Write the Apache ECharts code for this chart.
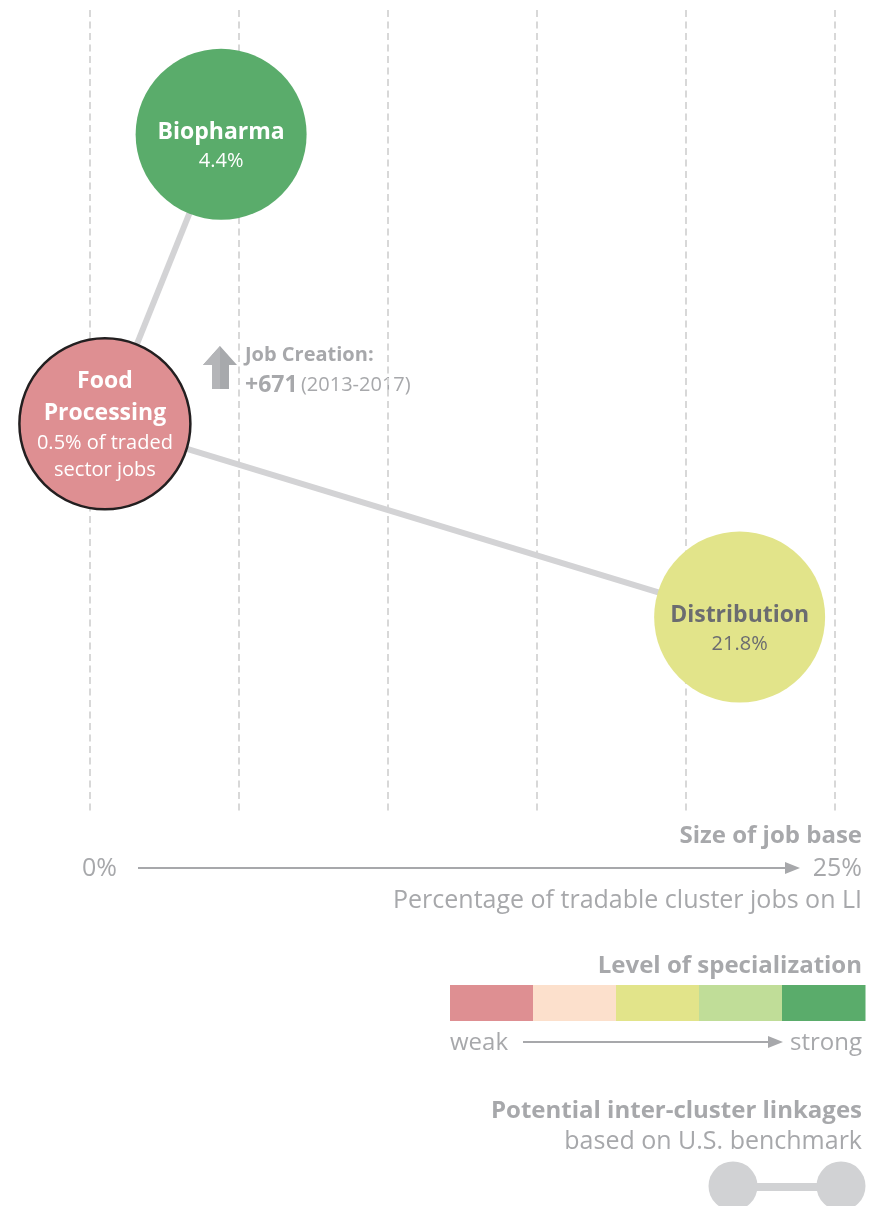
<!DOCTYPE html>
<html>
<head>
<meta charset="utf-8">
<script src="https://cdn.jsdelivr.net/npm/echarts@6/dist/echarts.min.js"></script>
<style>
  html, body { margin: 0; padding: 0; background: #fff; }
  #chart { width: 880px; height: 1206px; }
</style>
</head>
<body>
<div id="chart"></div>
<script>
// Cluster bubbles: share of tradable cluster jobs (%), vertical placement, specialization level (0 weak .. 4 strong)
const clusters = ['Biopharma', 'Food Processing', 'Distribution'];
const jobShare = [4.4, 0.5, 21.8];
const nodeY = [84.5, 48.4, 24.3];
const specializationLevel = [4, 0, 2];
const linkages = [['Biopharma', 'Food Processing'], ['Food Processing', 'Distribution']];

// Highlighted cluster annotation
const jobCreation = 671;
const jobPeriod = '2013-2017';

// Axis / legend texts
const axisTicks = [0, 5, 10, 15, 20, 25];
const axisEndLabels = ['0%', '25%'];
const specializationColors = ['#de8f92', '#fce0cc', '#e2e48a', '#c0dd98', '#5aac6b'];
const specializationEnds = ['weak', 'strong'];

const FONT = '"Open Sans"';
const GREY = '#a7a8ab';

const chart = echarts.init(document.getElementById('chart'), null, { renderer: 'canvas' });

function nodeLabel(name, i) {
  const dark = specializationLevel[i] === 2;
  const col = dark ? '#6b6c70' : '#ffffff';
  if (name === 'Food Processing') {
    return {
      formatter: '{b|Food}\n{b|Processing}\n{v|' + jobShare[i] + '% of traded}\n{v|sector jobs}',
      offset: [0, 1],
      rich: {
        b: { fontFamily: FONT, fontWeight: 'bold', fontSize: 23, color: col, lineHeight: 32 },
        v: { fontFamily: FONT, fontSize: 20, color: col, lineHeight: 27 }
      }
    };
  }
  return {
    formatter: '{b|' + name + '}\n{v|' + jobShare[i] + '%}',
    offset: [0, 12],
    rich: {
      b: { fontFamily: FONT, fontWeight: 'bold', fontSize: 23, color: col, lineHeight: 30 },
      v: { fontFamily: FONT, fontSize: 20, color: col, lineHeight: 28 }
    }
  };
}

const nodes = clusters.map((name, i) => ({
  name: name,
  value: [jobShare[i], nodeY[i]],
  itemStyle: Object.assign(
    { color: specializationColors[specializationLevel[i]] },
    name === 'Food Processing' ? { borderColor: '#231f20', borderWidth: 2.5 } : {}
  ),
  label: Object.assign({ show: true, position: 'inside', align: 'center' }, nodeLabel(name, i))
}));

const links = linkages.map(([s, t]) => ({ source: s, target: t }));

// Legend pieces drawn as graphic elements
const barX = 450, barW = 415, barY = 985, barH = 36;
const segW = barW / specializationColors.length;
const specBar = specializationColors.map((c, i) => ({
  type: 'rect',
  shape: { x: barX + i * segW, y: barY, width: segW + 0.5, height: barH },
  style: { fill: c }
}));

function txt(x, y, text, opts) {
  return {
    type: 'text', x: x, y: y,
    style: Object.assign({
      text: text, fill: GREY, font: '25px ' + FONT,
      textAlign: 'left', textVerticalAlign: 'middle'
    }, opts || {})
  };
}

function arrow(x1, x2, y) {
  return [
    { type: 'line', shape: { x1: x1, y1: y, x2: x2 - 12, y2: y }, style: { stroke: GREY, lineWidth: 2 } },
    { type: 'polygon', shape: { points: [[x2 - 15, y - 6], [x2, y], [x2 - 15, y + 6]] }, style: { fill: GREY } }
  ];
}

const graphics = [
  // Job creation annotation
  { type: 'polygon', shape: { points: [[220, 346], [237, 365], [229, 365], [229, 389], [212, 389], [212, 365], [203, 365]] }, style: { fill: '#a7a9ac' } },
  { type: 'polygon', shape: { points: [[220, 346], [220, 389], [212, 389], [212, 365], [203, 365]] }, style: { fill: '#b4b5b8' } },
  txt(245, 355, 'Job Creation:', { font: 'bold 20px ' + FONT }),
  {
    type: 'text', x: 245, y: 385,
    style: {
      text: '{a|+' + jobCreation + '} {b|(' + jobPeriod + ')}',
      textVerticalAlign: 'middle',
      rich: {
        a: { font: 'bold 23px ' + FONT, fill: GREY },
        b: { font: '20px ' + FONT, fill: GREY }
      }
    }
  },
  // Size of job base
  txt(862, 836, 'Size of job base', { font: 'bold 24px ' + FONT, textAlign: 'right' }),
  txt(82, 869, axisEndLabels[0]),
  txt(862, 869, axisEndLabels[1], { textAlign: 'right' }),
  ...arrow(138, 800, 868),
  txt(862, 901, 'Percentage of tradable cluster jobs on LI', { textAlign: 'right' }),
  // Level of specialization
  txt(862, 966, 'Level of specialization', { font: 'bold 24px ' + FONT, textAlign: 'right' }),
  ...specBar,
  txt(450, 1043, specializationEnds[0], { font: '24px ' + FONT }),
  ...arrow(523, 783, 1042),
  txt(862, 1043, specializationEnds[1], { font: '24px ' + FONT, textAlign: 'right' }),
  // Potential inter-cluster linkages
  txt(862, 1111, 'Potential inter-cluster linkages', { font: 'bold 24px ' + FONT, textAlign: 'right' }),
  txt(862, 1142, 'based on U.S. benchmark', { textAlign: 'right' }),
  { type: 'line', shape: { x1: 740, y1: 1187, x2: 835, y2: 1187 }, style: { stroke: '#d1d2d4', lineWidth: 8 } },
  { type: 'circle', shape: { cx: 733, cy: 1186, r: 24.5 }, style: { fill: '#d1d2d4' } },
  { type: 'circle', shape: { cx: 841, cy: 1186, r: 24.5 }, style: { fill: '#d1d2d4' } }
];

chart.setOption({
  backgroundColor: '#ffffff',
  animation: false,
  grid: { left: 90, right: 45, top: 10, bottom: 394 },
  xAxis: {
    type: 'value', min: axisTicks[0], max: axisTicks[axisTicks.length - 1],
    interval: axisTicks[1] - axisTicks[0],
    axisLine: { show: false }, axisTick: { show: false }, axisLabel: { show: false },
    splitLine: { show: true, showMinLine: true, showMaxLine: true, lineStyle: { color: '#d8d8d8', width: 2, type: [7, 4.5] } }
  },
  yAxis: {
    type: 'value', min: 0, max: 100, show: false,
    splitLine: { show: false }
  },
  series: [{
    type: 'graph',
    coordinateSystem: 'cartesian2d',
    layout: 'none',
    symbol: 'circle',
    symbolSize: 171,
    roam: false,
    silent: true,
    edgeSymbol: ['none', 'none'],
    lineStyle: { color: '#d3d3d5', width: 6, opacity: 1, curveness: 0 },
    data: nodes,
    links: links,
    z: 3
  }],
  graphic: graphics
});
</script>
</body>
</html>
